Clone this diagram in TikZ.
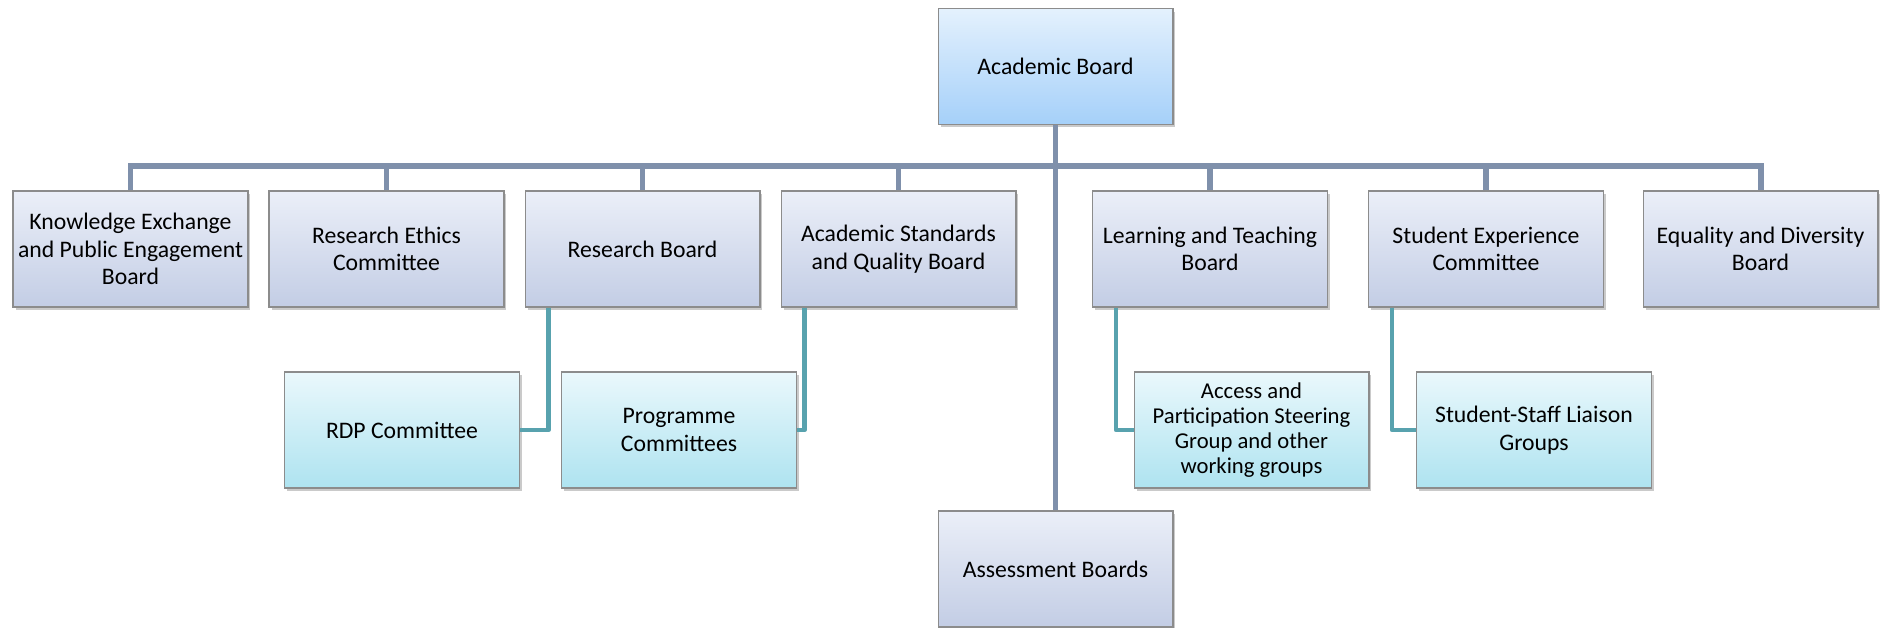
\documentclass[tikz,border=0pt]{standalone}
\usepackage{fontspec}
\setmainfont{Carlito}
\usetikzlibrary{shadows}

\definecolor{boardtop}{HTML}{EBEFF8}
\definecolor{boardbot}{HTML}{C3CDE5}
\definecolor{headtop}{HTML}{E4F1FD}
\definecolor{headbot}{HTML}{A5D0F9}
\definecolor{subtop}{HTML}{EAF8FC}
\definecolor{subbot}{HTML}{AEE3F0}
\definecolor{busgray}{HTML}{7F90AB}
\definecolor{subteal}{HTML}{58A2AE}

\tikzset{
  box/.style={draw=black!45, line width=0.6pt, align=center, inner sep=1pt,
    minimum width=4.7cm, minimum height=2.32cm,
    font=\fontsize{13.5}{15.6}\selectfont,
    drop shadow={shadow xshift=0.05cm, shadow yshift=-0.06cm, opacity=0.35, fill=black!60},
    top color=boardtop, bottom color=boardbot},
  headbox/.style={box, top color=headtop, bottom color=headbot},
  subbox/.style={box, top color=subtop, bottom color=subbot},
  busline/.style={busgray, line width=3.4pt},
  subline/.style={subteal, line width=2.6pt, line join=round}
}

\begin{document}
\begin{tikzpicture}[x=0.02cm, y=-0.02cm]
  \useasboundingbox (0,0) rectangle (1881,628); % page = reference size

  % top of the tree
  \node[headbox] (acb) at (1055.5,66.5) {Academic Board};
  \coordinate (bus) at (1056,166);

  % first row of boards and committees
  \node[box] (keb) at (130.5,249) {Knowledge Exchange\\and Public Engagement\\Board};
  \node[box] (rec) at (386.5,249) {Research Ethics\\Committee};
  \node[box] (rsb) at (642.5,249) {Research Board};
  \node[box] (asq) at (898.5,249) {Academic Standards\\and Quality Board};
  \node[box] (ltb) at (1210,249) {Learning and Teaching\\Board};
  \node[box] (sec) at (1486,249) {Student Experience\\Committee};
  \node[box] (edb) at (1760.5,249) {Equality and Diversity\\Board};

  % second row
  \node[subbox] (rdp) at (402,430) {RDP Committee};
  \node[subbox] (prc) at (679,430) {Programme\\Committees};
  \node[subbox, font=\fontsize{12.9}{14.2}\selectfont] (apg) at (1251.5,430)
    {Access and\\Participation Steering\\Group and other\\working groups};
  \node[subbox] (ssl) at (1534,430) {Student-Staff Liaison\\Groups};

  \node[box] (asb) at (1055.5,569) {Assessment Boards};

  % connectors
  \draw[busline] (acb.south) -- (asb.north);
  \foreach \n in {keb,rec,rsb,asq,ltb,sec,edb}{
      \draw[busline] (\n.north) |- (bus); % drop from the bus to each box
    }
  \draw[subline] ([xshift=0.48cm]rsb.south west) |- (rdp.east);
  \draw[subline] ([xshift=0.48cm]asq.south west) |- (prc.east);
  \draw[subline] ([xshift=0.48cm]ltb.south west) |- (apg.west);
  \draw[subline] ([xshift=0.48cm]sec.south west) |- (ssl.west);
\end{tikzpicture}
\end{document}
